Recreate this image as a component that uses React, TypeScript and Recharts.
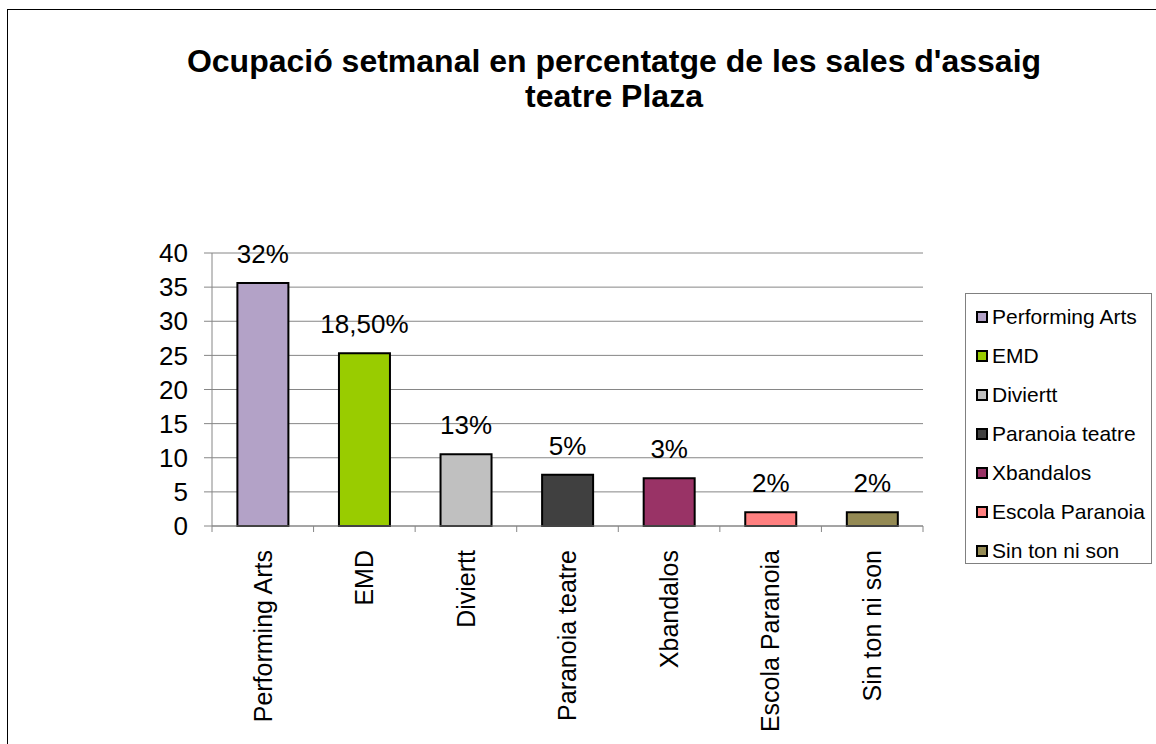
import { BarChart, Bar, XAxis, YAxis, CartesianGrid, Cell, LabelList } from 'recharts';

const categories = [
  'Performing Arts',
  'EMD',
  'Diviertt',
  'Paranoia teatre',
  'Xbandalos',
  'Escola Paranoia',
  'Sin ton ni son',
];
const hours = [35.6, 25.3, 10.5, 7.5, 7.0, 2, 2];
const shareLabels = ['32%', '18,50%', '13%', '5%', '3%', '2%', '2%'];
const barColors = ['#b3a2c7', '#99cc00', '#c0c0c0', '#404040', '#993366', '#ff8080', '#948a54'];
const yTicks = [0, 5, 10, 15, 20, 25, 30, 35, 40];

const data = categories.map((name, i) => ({ name, value: hours[i], label: shareLabels[i] }));

const FONT = '"Liberation Sans", Arial, Helvetica, sans-serif';
const W = 1156;
const H = 744;
const margin = { top: 253, right: 233, bottom: 18, left: 0 };
const Y_AXIS_W = 212;
const X_AXIS_H = 200;
const GRID = '#868686';

const halfBand = (W - margin.left - margin.right - Y_AXIS_W) / categories.length / 2;

function CategoryTick(props: any) {
  const { x, y, payload, index } = props;
  const half = payload?.offset || halfBand;
  const ty = y + 24;
  return (
    <g>
      <line x1={x - half} y1={y} x2={x - half} y2={y + 6} stroke={GRID} />
      {index === categories.length - 1 && (
        <line x1={x + half} y1={y} x2={x + half} y2={y + 6} stroke={GRID} />
      )}
      <text
        x={x}
        y={ty}
        transform={`rotate(-90, ${x}, ${ty})`}
        textAnchor="end"
        dy="0.35em"
        fontSize={25}
        fontFamily={FONT}
        fill="#000"
      >
        {payload.value}
      </text>
    </g>
  );
}

export default function App() {
  return (
    <div style={{ position: 'absolute', left: 0, top: 0, width: W, height: H, overflow: 'hidden', background: '#fff', fontFamily: FONT }}>
      <div style={{ position: 'absolute', left: 7, top: 9, width: 1300, height: 900, border: '1px solid #000' }} />
      <div
        style={{
          position: 'absolute',
          left: 0,
          top: 44,
          width: 1228,
          textAlign: 'center',
          fontWeight: 'bold',
          fontSize: 32,
          lineHeight: '35px',
          color: '#000',
        }}
      >
        Ocupació setmanal en percentatge de les sales d'assaig
        <br />
        teatre Plaza
      </div>

      <div style={{ position: 'absolute', left: 0, top: 0 }}>
        <BarChart width={W} height={H} data={data} margin={margin} barCategoryGap="25%">
          <CartesianGrid vertical={false} stroke={GRID} />
          <XAxis
            dataKey="name"
            height={X_AXIS_H}
            interval={0}
            axisLine={{ stroke: GRID }}
            tickLine={false}
            tickSize={0}
            tickMargin={0}
            tick={<CategoryTick />}
          />
          <YAxis
            width={Y_AXIS_W}
            domain={[0, 40]}
            ticks={yTicks}
            interval={0}
            axisLine={{ stroke: GRID }}
            tickLine={{ stroke: GRID }}
            tickSize={8}
            tickMargin={16}
            tick={{ fill: '#000', fontSize: 26, fontFamily: FONT }}
          />
          <Bar dataKey="value" stroke="#000" strokeWidth={2} isAnimationActive={false}>
            {data.map((d, i) => (
              <Cell key={d.name} fill={barColors[i]} />
            ))}
            <LabelList dataKey="label" position="top" offset={20} fill="#000" fontSize={26} fontFamily={FONT} />
          </Bar>
        </BarChart>
      </div>

      <div
        style={{
          position: 'absolute',
          left: 965,
          top: 293,
          width: 187,
          height: 271,
          border: '1px solid #808080',
          boxSizing: 'border-box',
          paddingTop: 4,
        }}
      >
        {categories.map((c, i) => (
          <div key={c} style={{ display: 'flex', alignItems: 'center', height: 38.9, paddingLeft: 10 }}>
            <span
              style={{
                width: 8,
                height: 8,
                background: barColors[i],
                border: '2px solid #000',
                marginRight: 4,
                flexShrink: 0,
              }}
            />
            <span style={{ fontSize: 21, whiteSpace: 'nowrap', color: '#000' }}>{c}</span>
          </div>
        ))}
      </div>
    </div>
  );
}
